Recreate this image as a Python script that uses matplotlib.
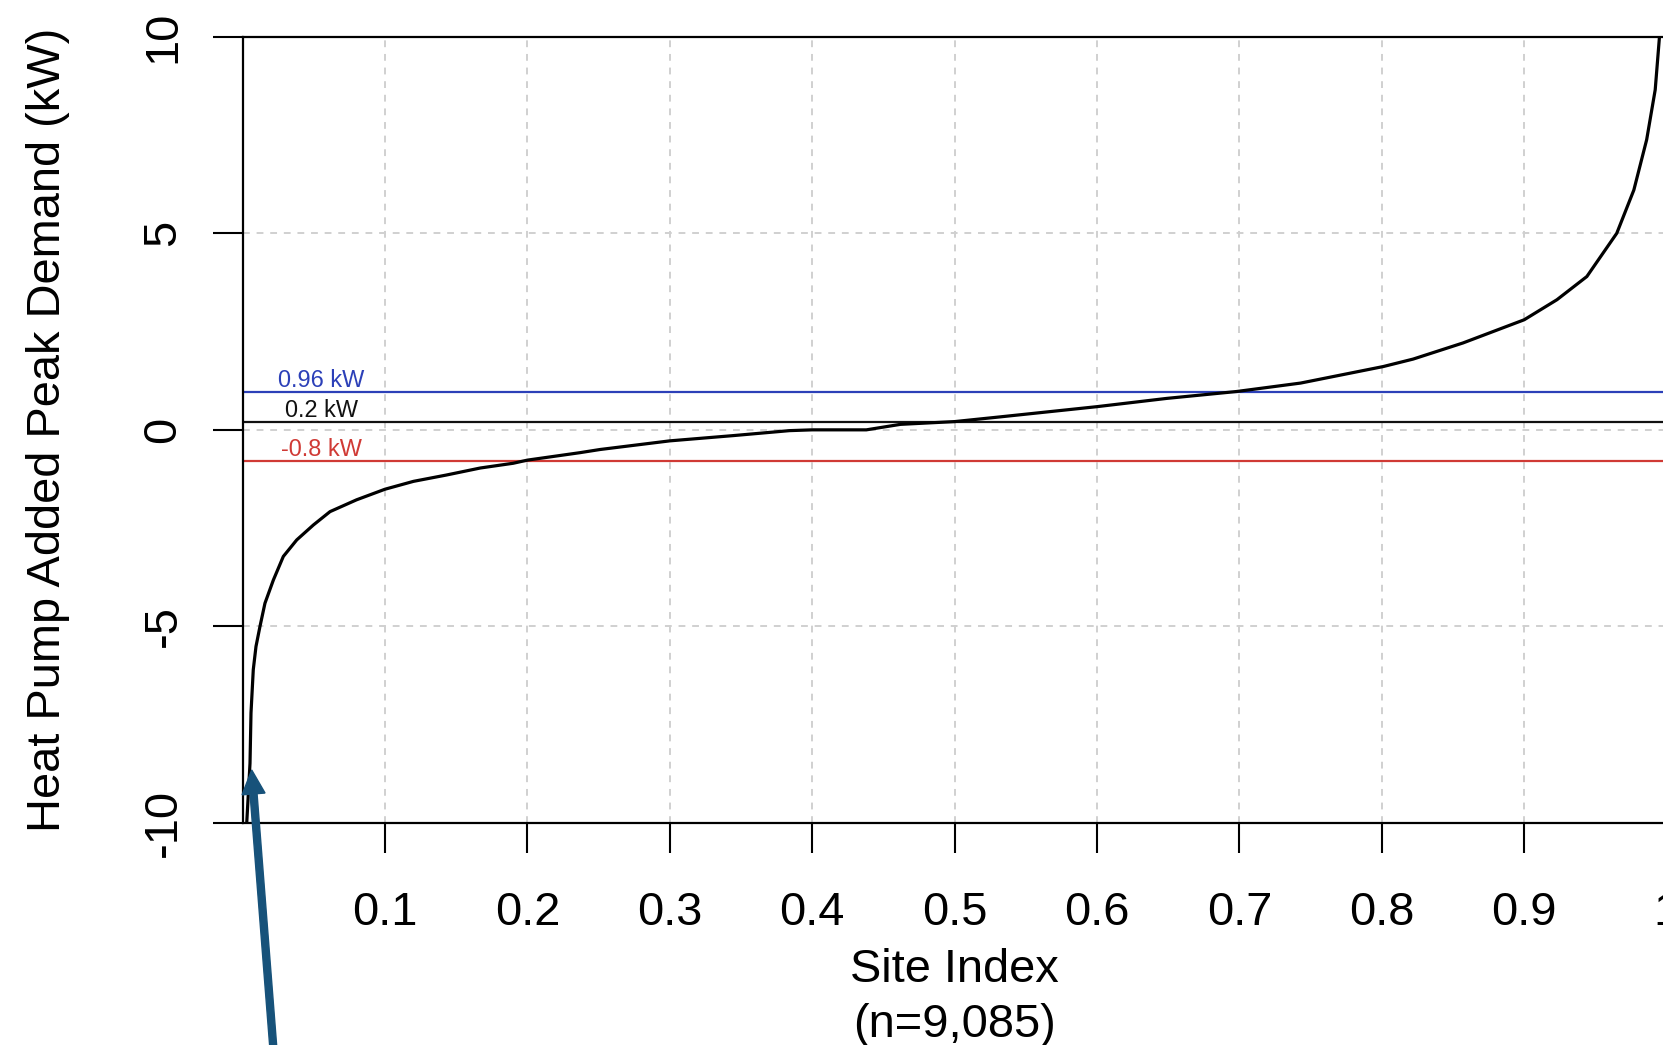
import matplotlib
matplotlib.use("Agg")
import matplotlib.pyplot as plt
from matplotlib.patches import FancyArrow
from matplotlib.transforms import IdentityTransform

plt.rcParams['font.family'] = ['Liberation Sans', 'DejaVu Sans']
plt.rcParams['axes.unicode_minus'] = False

# ---- data ----
site_index = [0.0029, 0.0052, 0.0059, 0.0075, 0.0094, 0.0122, 0.0157, 0.0216, 0.0286,
              0.038, 0.0497, 0.0614, 0.080, 0.100, 0.120, 0.143, 0.167, 0.190, 0.200,
              0.237, 0.251, 0.300, 0.345, 0.384, 0.400, 0.438, 0.462, 0.500, 0.532,
              0.600, 0.649, 0.698, 0.743, 0.801, 0.822, 0.857, 0.900, 0.923, 0.944,
              0.965, 0.977, 0.986, 0.992, 0.995]
added_peak_kw = [-10.0, -8.48, -7.2, -6.1, -5.51, -5.0, -4.41, -3.82, -3.22,
                 -2.80, -2.42, -2.08, -1.78, -1.51, -1.31, -1.15, -0.97, -0.85, -0.77,
                 -0.58, -0.50, -0.28, -0.145, -0.02, 0.0, 0.0, 0.14, 0.21, 0.33,
                 0.59, 0.80, 0.975, 1.19, 1.61, 1.80, 2.21, 2.80, 3.31, 3.90,
                 5.0, 6.1, 7.38, 8.65, 10.0]

ref_values = [0.96, 0.2, -0.8]
ref_labels = ["0.96 kW", "0.2 kW", "-0.8 kW"]
ref_colors = ["#2C40B8", "#111111", "#D03A35"]

x_ticks = [0.1, 0.2, 0.3, 0.4, 0.5, 0.6, 0.7, 0.8, 0.9, 1.0]
x_tick_labels = ["0.1", "0.2", "0.3", "0.4", "0.5", "0.6", "0.7", "0.8", "0.9", "1"]
y_ticks = [-10, -5, 0, 5, 10]
y_tick_labels = ["-10", "-5", "0", "5", "10"]

FS = 33.8

W, H = 1663, 1045
fig = plt.figure(figsize=(W / 100, H / 100), dpi=100)
left, right, top, bottom = 242.6, 242.6 + 1424, 36.7, 823
ax = fig.add_axes([left / W, 1 - bottom / H, (right - left) / W, (bottom - top) / H])
ax.set_xlim(0, 1)
ax.set_ylim(-10, 10)

# grid
grid_kw = dict(color="#D0D0D0", lw=1.4, ls=(0, (3.5, 3.5)), zorder=1)
for gx in x_ticks[:-1]:
    ax.axvline(gx, **grid_kw)
for gy in [-5, 0, 5]:
    ax.axhline(gy, **grid_kw)

# reference lines
for v, lab, c in zip(ref_values, ref_labels, ref_colors):
    ax.axhline(v, color=c, lw=1.6, zorder=2)
    ax.annotate(lab, xy=(0.0552, v), xytext=(0, 3.6), textcoords="offset points",
                ha="center", va="baseline", fontsize=16.9, color=c, zorder=3)

# curve
ax.plot(site_index, added_peak_kw, color="black", lw=2.3, zorder=4,
        solid_joinstyle="round")

# box
for s in ax.spines.values():
    s.set_linestyle((0, (4, 1)))
    s.set_linewidth(1.6)
    s.set_color("black")
    s.set_zorder(5)

ax.set_xticks(x_ticks)
ax.set_xticklabels(x_tick_labels)
ax.set_yticks(y_ticks)
ax.set_yticklabels(y_tick_labels)
ax.tick_params(axis="both", length=21.6, width=1.5, labelsize=FS, color="black")
ax.tick_params(axis="x", pad=27.6)
ax.tick_params(axis="y", pad=19.6, labelrotation=90)
for lbl in ax.get_yticklabels():
    lbl.set_va("center")

ax.set_xlabel("Site Index\n(n=9,085)", fontsize=FS, linespacing=1.32)
ax.xaxis.set_label_coords(0.5, -0.159)
ax.set_ylabel("Heat Pump Added Peak Demand (kW)", fontsize=FS, va="center")
ax.yaxis.set_label_coords((48 - left) / (right - left), 0.5)

# annotation arrow (figure pixels)
arrow = FancyArrow(273.5, -5, 251.7 - 273.5, (H - 770) - (-5), width=7,
                   head_width=23, head_length=24, length_includes_head=True,
                   color="#17527A", transform=IdentityTransform())
fig.add_artist(arrow)

fig.savefig("out.png", dpi=100)
